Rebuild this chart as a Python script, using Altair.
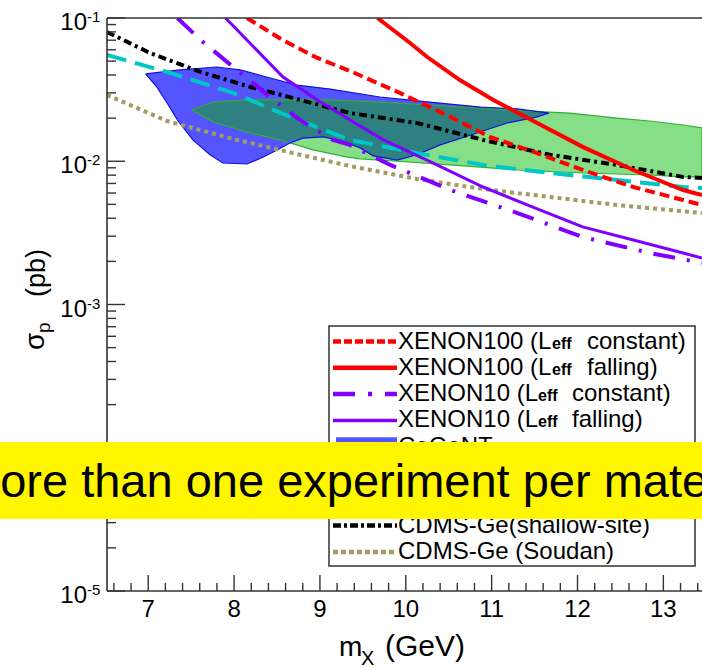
import altair as alt
import pandas as pd

# ---------------- data ----------------
xe100_const_m = [8.15, 8.57, 8.97, 9.35, 9.93, 10.52, 10.98, 11.53, 12.06, 12.65, 13.23, 13.45]
xe100_const_s = [0.100, 0.070, 0.0526, 0.0427, 0.0300, 0.0204, 0.0148, 0.0114, 0.00869, 0.00661, 0.00536, 0.00495]

xe100_fall_m = [9.67, 10.05, 10.25, 10.63, 11.02, 11.53, 12.06, 12.65, 13.23, 13.45]
xe100_fall_s = [0.100, 0.0669, 0.0534, 0.0369, 0.0268, 0.0185, 0.0126, 0.00869, 0.00630, 0.00581]

xe10_const_m = [7.34, 7.61, 7.99, 8.46, 8.77, 9.15, 9.35, 9.82, 10.52, 11.30, 12.06, 12.84, 13.45]
xe10_const_s = [0.100, 0.0702, 0.0455, 0.0268, 0.0194, 0.0141, 0.0130, 0.00942, 0.00630, 0.00435, 0.00296, 0.00229, 0.00195]

xe10_fall_m = [7.90, 8.15, 8.57, 8.97, 9.35, 9.74, 10.32, 10.90, 11.48, 12.06, 12.65, 13.23, 13.45]
xe10_fall_s = [0.100, 0.0702, 0.0387, 0.0268, 0.0194, 0.0141, 0.00972, 0.00661, 0.00479, 0.00348, 0.00282, 0.00229, 0.00211]

cdms_shallow_m = [6.52, 7.02, 7.61, 8.19, 8.77, 9.35, 10.13, 10.90, 11.68, 12.46, 13.23, 13.45]
cdms_shallow_s = [0.0799, 0.0570, 0.0420, 0.0330, 0.0268, 0.0217, 0.0185, 0.0141, 0.0111, 0.00942, 0.00777, 0.00764]

cdms_si_m = [6.52, 7.22, 7.99, 8.57, 9.35, 10.13, 10.90, 11.68, 12.46, 13.23, 13.45]
cdms_si_s = [0.0552, 0.0420, 0.0300, 0.0214, 0.0141, 0.0114, 0.00942, 0.00828, 0.00740, 0.00661, 0.00650]

cdms_soudan_m = [6.52, 7.22, 7.99, 8.77, 9.35, 10.13, 10.90, 11.68, 12.46, 13.45]
cdms_soudan_s = [0.0290, 0.0191, 0.0143, 0.0111, 0.00926, 0.00752, 0.00640, 0.00563, 0.00495, 0.00435]

cogent_m = [6.97, 7.37, 7.80, 8.07, 8.42, 8.73, 9.12, 9.70, 10.28, 10.87, 11.30, 11.67,
            11.53, 11.18, 10.75, 10.40, 10.13, 9.90, 9.62, 9.47, 9.24, 9.04, 8.80, 8.65,
            8.50, 8.34, 8.15, 7.87, 7.72, 7.52, 7.34, 7.22, 7.10]
cogent_s = [0.0407, 0.0434, 0.0455, 0.0434, 0.0381, 0.0340, 0.0319, 0.0281, 0.0259, 0.0239, 0.0232, 0.0217,
            0.0204, 0.0185, 0.0152, 0.0130, 0.0111, 0.0102, 0.0109, 0.0124, 0.0139, 0.0148, 0.0145, 0.0134,
            0.0120, 0.0107, 0.00957, 0.00972, 0.0111, 0.0141, 0.0194, 0.0255, 0.0330]

dama_m = [7.51, 7.76, 8.15, 8.54, 9.12, 9.70, 10.28, 10.87, 11.45, 11.91, 12.46, 12.84, 13.23, 13.45,
          13.45, 13.23, 12.84, 12.06, 11.30, 10.52, 9.90, 9.47, 9.32, 8.92, 8.54, 8.15, 7.76]
dama_s = [0.0228, 0.0259, 0.0268, 0.0268, 0.0268, 0.0259, 0.0247, 0.0235, 0.0224, 0.0217, 0.0200, 0.0191, 0.0179, 0.0171,
          0.00777, 0.00777, 0.00802, 0.00828, 0.00869, 0.00942, 0.0100, 0.0104, 0.0107, 0.0120, 0.0141, 0.0160, 0.0188]

overlap_m = [7.51, 7.76, 8.15, 8.54, 9.12, 9.70, 10.28, 10.87, 11.45, 11.67, 11.53, 11.18, 10.75, 10.40,
             10.13, 9.90, 9.62, 9.47, 9.24, 9.04, 8.80, 8.59, 8.15, 7.76]
overlap_s = [0.0228, 0.0259, 0.0268, 0.0268, 0.0268, 0.0259, 0.0247, 0.0235, 0.0224, 0.0217, 0.0204, 0.0185, 0.0152, 0.0130,
             0.0111, 0.0102, 0.0109, 0.0124, 0.0139, 0.0148, 0.0145, 0.0139, 0.0160, 0.0188]

x_major = [7, 8, 9, 10, 11, 12, 13]
x_labels = ["7", "8", "9", "10", "11", "12", "13"]
y_major = [1e-5, 1e-4, 1e-3, 1e-2, 1e-1]
y_exp = ["-5", "-4", "-3", "-2", "-1"]

legend_rows = [
    ("XENON100 (L", "eff", "constant)"),
    ("XENON100 (L", "eff", "falling)"),
    ("XENON10 (L", "eff", "constant)"),
    ("XENON10 (L", "eff", "falling)"),
    ("CoGeNT", "", ""),
    ("DAMA", "", ""),
    ("CDMS-Si", "", ""),
    ("CDMS-Ge(shallow-site)", "", ""),
    ("CDMS-Ge (Soudan)", "", ""),
]
banner_text = "More than one experiment per material"

# ---------------- styles / layout ----------------
FONT = "Liberation Sans"
W, H = 595, 573
L, T = 107, 18
RED = "#ff0000"
PURPLE = "#7f00ff"
BLUE = "#5555ff"
BLUE_EDGE = "#1010e0"
GREEN = "#86de86"
GREEN_EDGE = "#30b030"
TEAL = "#2f8080"
CYAN = "#00c6c6"
OLIVE = "#a19c5f"
AXIS = "#333333"

xs = alt.Scale(domain=[6.52, 13.45], nice=False, zero=False)
ys = alt.Scale(type="log", domain=[1e-5, 1e-1], nice=False)


def X(field="m"):
    return alt.X(f"{field}:Q", scale=xs, axis=None)


def Y(field="s"):
    return alt.Y(f"{field}:Q", scale=ys, axis=None)


def curve(m, s, color, width, dash=None):
    df = pd.DataFrame({"m": m, "s": s, "i": list(range(len(m)))})
    kw = dict(color=color, strokeWidth=width, clip=True)
    if dash:
        kw["strokeDash"] = dash
    return alt.Chart(df).mark_line(**kw).encode(x=X(), y=Y(), order="i:Q")


def polygon(m, s, fill):
    mm = list(m) + [m[0]]
    ss = list(s) + [s[0]]
    df = pd.DataFrame({"m": mm, "s": ss, "i": list(range(len(mm)))})
    return alt.Chart(df).mark_line(fill=fill, stroke=fill, strokeWidth=0, clip=True).encode(
        x=X(), y=Y(), order="i:Q")


def outline(m, s, stroke, sw=1.0):
    mm = list(m) + [m[0]]
    ss = list(s) + [s[0]]
    df = pd.DataFrame({"m": mm, "s": ss, "i": list(range(len(mm)))})
    return alt.Chart(df).mark_line(stroke=stroke, strokeWidth=sw, clip=True).encode(
        x=X(), y=Y(), order="i:Q")


one = pd.DataFrame({"a": [0]})


def ptext(txt, px, py, size, **kw):
    """text placed at page pixel (px, py) = left / baseline"""
    args = dict(text=txt, fontSize=size, font=FONT, color="black", align="left",
                baseline="alphabetic")
    args.update(kw)
    return alt.Chart(one).mark_text(**args).encode(x=alt.value(px - L), y=alt.value(py - T))


layers = []

# regions
layers.append(polygon(dama_m, dama_s, GREEN))
layers.append(polygon(cogent_m, cogent_s, BLUE))
layers.append(polygon(overlap_m, overlap_s, TEAL))
layers.append(outline(dama_m, dama_s, GREEN_EDGE, 1.2))
layers.append(outline(cogent_m, cogent_s, BLUE_EDGE, 1.2))

# curves
layers.append(curve(cdms_soudan_m, cdms_soudan_s, OLIVE, 4, [4, 4]))
layers.append(curve(cdms_si_m, cdms_si_s, CYAN, 4, [20, 9]))
layers.append(curve(cdms_shallow_m, cdms_shallow_s, "black", 4, [8, 4, 3, 4]))
layers.append(curve(xe10_fall_m, xe10_fall_s, PURPLE, 3))
layers.append(curve(xe10_const_m, xe10_const_s, PURPLE, 4, [22, 12, 3, 12]))
layers.append(curve(xe100_fall_m, xe100_fall_s, RED, 4))
layers.append(curve(xe100_const_m, xe100_const_s, RED, 4, [10, 5]))

# axis lines
layers.append(alt.Chart(one).mark_rule(color=AXIS, strokeWidth=1.6).encode(
    x=alt.value(0), y=alt.value(0), y2=alt.value(H)))
layers.append(alt.Chart(one).mark_rule(color=AXIS, strokeWidth=1.6).encode(
    x=alt.value(0), x2=alt.value(W), y=alt.value(H)))
layers.append(alt.Chart(one).mark_rule(color=AXIS, strokeWidth=1.6).encode(
    x=alt.value(0), x2=alt.value(W), y=alt.value(0)))

# ticks (inward)
y_minor = [k * 10.0 ** e for e in range(-5, -1) for k in range(2, 10)]
x_minor = [round(6.6 + 0.2 * k, 1) for k in range(35)]
x_minor = [v for v in x_minor if abs(v - round(v)) > 1e-6 and v < 13.45]
layers.append(alt.Chart(pd.DataFrame({"s": y_major})).mark_rule(color=AXIS, strokeWidth=1.4).encode(
    y=Y(), x=alt.value(0), x2=alt.value(18)))
layers.append(alt.Chart(pd.DataFrame({"s": y_minor})).mark_rule(color=AXIS, strokeWidth=1.4).encode(
    y=Y(), x=alt.value(0), x2=alt.value(9)))
layers.append(alt.Chart(pd.DataFrame({"m": x_major})).mark_rule(color=AXIS, strokeWidth=1.4).encode(
    x=X(), y=alt.value(H), y2=alt.value(H - 16)))
layers.append(alt.Chart(pd.DataFrame({"m": x_minor})).mark_rule(color=AXIS, strokeWidth=1.4).encode(
    x=X(), y=alt.value(H), y2=alt.value(H - 8)))

# tick labels
layers.append(alt.Chart(pd.DataFrame({"m": x_major, "t": x_labels})).mark_text(
    fontSize=24, font=FONT, color="black", align="center", baseline="alphabetic").encode(
    x=X(), y=alt.value(617 - T), text="t:N"))
ydf = pd.DataFrame({"s": y_major, "e": y_exp, "b": ["10"] * len(y_major)})
layers.append(alt.Chart(ydf).mark_text(
    fontSize=24, font=FONT, color="black", align="right", baseline="alphabetic", dy=12).encode(
    y=Y(), x=alt.value(87 - L), text="b:N"))
layers.append(alt.Chart(ydf).mark_text(
    fontSize=15, font=FONT, color="black", align="left", baseline="alphabetic", dy=4).encode(
    y=Y(), x=alt.value(87 - L), text="e:N"))

# axis titles
layers.append(ptext("m", 339, 656, 28))
layers.append(ptext("X", 361, 665, 20))
layers.append(ptext("(GeV)", 385, 656, 30))
layers.append(ptext("σ", 44, 350, 28, angle=270))
layers.append(ptext("p", 50, 333, 19, angle=270))
layers.append(ptext("(pb)", 45, 297, 27, angle=270))

# legend
LX0, LY0, LX1, LY1 = 329, 326, 695, 566
layers.append(alt.Chart(one).mark_rect(fill="white", stroke=AXIS, strokeWidth=1.5).encode(
    x=alt.value(LX0 - L), x2=alt.value(LX1 - L), y=alt.value(LY0 - T), y2=alt.value(LY1 - T)))

samples = [
    ("line", RED, 4.5, [8, 3]),
    ("line", RED, 4.5, None),
    ("line", PURPLE, 4.5, [22, 13, 4, 13]),
    ("line", PURPLE, 3.5, None),
    ("rect", BLUE, 0, None),
    ("rect", GREEN, 0, None),
    ("line", CYAN, 4.5, [14, 6]),
    ("line", "black", 4.5, [8, 3, 3, 3]),
    ("line", OLIVE, 4.5, [5, 3]),
]
for k, ((main, sub, tail), (kind, col, sw, dash)) in enumerate(zip(legend_rows, samples)):
    cy = 340 + 26.3 * k
    if kind == "line":
        kw = dict(color=col, strokeWidth=sw)
        if dash:
            kw["strokeDash"] = dash
        layers.append(alt.Chart(one).mark_rule(**kw).encode(
            x=alt.value(333 - L), x2=alt.value(397 - L), y=alt.value(cy + 1.5 - T)))
    else:
        layers.append(alt.Chart(one).mark_rect(fill=col).encode(
            x=alt.value(336 - L), x2=alt.value(397 - L), y=alt.value(cy - 8 - T), y2=alt.value(cy + 8 - T)))
    base = cy + 8.5
    layers.append(ptext(main, 398, base, 24))
    if sub:
        sx = 552 if main.startswith("XENON100") else 538
        tx = 587 if main.startswith("XENON100") else 572
        layers.append(ptext(sub, sx, base, 16, fontWeight="bold"))
        layers.append(ptext(tail, tx, base, 24))

# banner
layers.append(alt.Chart(one).mark_rect(fill="#fff600").encode(
    x=alt.value(-L), x2=alt.value(W), y=alt.value(442 - T), y2=alt.value(519 - T)))
layers.append(ptext(banner_text, -39, 497, 47))

chart = alt.layer(*layers).properties(
    width=W, height=H,
    autosize=alt.AutoSizeParams(type="none"),
    padding={"left": L, "top": T, "right": 0, "bottom": 668 - T - H},
    background="white",
).configure_view(stroke="transparent")

chart.save("out.html", embed_options={"renderer": "svg", "actions": False})
